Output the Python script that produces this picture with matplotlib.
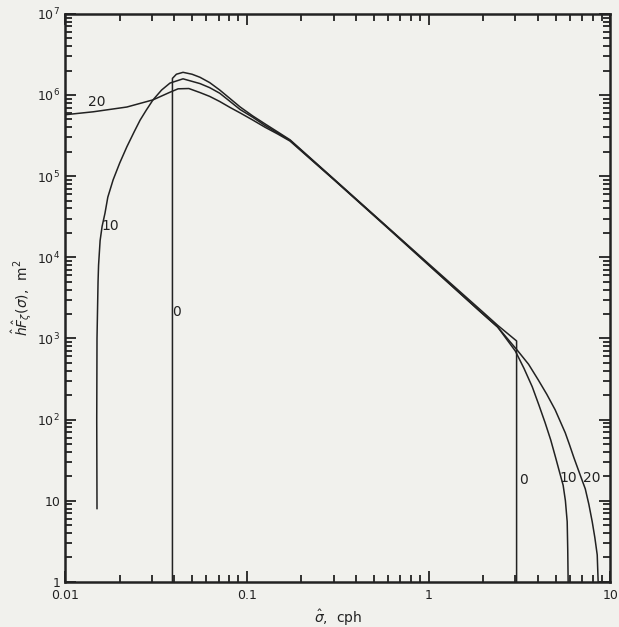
import matplotlib
matplotlib.use("Agg")
import matplotlib.pyplot as plt
from matplotlib.ticker import LogLocator, FixedLocator, FixedFormatter, NullFormatter

plt.rcParams["mathtext.fontset"] = "dejavusans"

# spectrum for cutoff 0
x_0 = [0.039, 0.039, 0.041, 0.0446, 0.050, 0.0553, 0.0625, 0.071, 0.081, 0.092,
       0.108, 0.126, 0.148, 0.173, 0.30, 0.615, 1.02, 1.92, 2.4, 3.05, 3.05]
y_0 = [1, 1.6e6, 1.8e6, 1.9e6, 1.8e6, 1.65e6, 1.42e6, 1.15e6, 9.0e5, 7.1e5,
       5.5e5, 4.4e5, 3.5e5, 2.8e5, 9.3e4, 2.2e4, 8.0e3, 2.27e3, 1.45e3, 930, 1]

# spectrum for cutoff 10
x_10 = [0.0150, 0.01495, 0.0150, 0.0152, 0.0153, 0.0156, 0.0160, 0.0166, 0.0172,
        0.0184, 0.020, 0.0219, 0.024, 0.0259, 0.028, 0.0305, 0.034, 0.0378, 0.0446,
        0.0553, 0.0625, 0.071, 0.081, 0.092, 0.108, 0.126, 0.148, 0.173, 0.30,
        0.615, 1.02, 1.92, 2.4, 3.0, 3.35, 3.72, 4.05, 4.38, 4.7, 5.0, 5.27, 5.5,
        5.66, 5.79, 5.83, 5.86]
y_10 = [8, 100, 1000, 5000, 8e3, 1.6e4, 2.4e4, 3.5e4, 5.5e4,
        9e4, 1.45e5, 2.3e5, 3.5e5, 4.9e5, 6.5e5, 8.7e5, 1.15e6, 1.4e6, 1.58e6,
        1.38e6, 1.23e6, 1.05e6, 8.3e5, 6.6e5, 5.3e5, 4.2e5, 3.4e5, 2.75e5, 9.2e4,
        2.18e4, 7.8e3, 2.15e3, 1.38e3, 700, 427, 253, 150, 91, 56, 34, 22, 15.5,
        10, 5.5, 2.5, 1]

# spectrum for cutoff 20
x_20 = [0.01, 0.0143, 0.0219, 0.0305, 0.0378, 0.0419, 0.048, 0.0553, 0.0625,
        0.071, 0.081, 0.092, 0.108, 0.126, 0.148, 0.173, 0.30, 0.615, 1.02, 1.92,
        2.4, 3.1, 3.55, 4.01, 4.47, 4.97, 5.65, 5.96, 6.3, 6.76, 7.28, 7.62, 7.95,
        8.22, 8.47, 8.57]
y_20 = [5.7e5, 6.2e5, 7.1e5, 8.7e5, 1.08e6, 1.19e6, 1.2e6, 1.07e6, 9.6e5,
        8.3e5, 7.0e5, 6.0e5, 4.9e5, 4.0e5, 3.3e5, 2.7e5, 9.1e4, 2.15e4, 7.7e3, 2.15e3,
        1.38e3, 700, 480, 309, 205, 132, 68.6, 49, 34, 22, 14, 9.0, 5.5,
        3.5, 2.15, 1]

y_ticks = [1, 10, 1e2, 1e3, 1e4, 1e5, 1e6, 1e7]
y_tick_labels = ["1", "10", "$10^2$", "$10^3$", "$10^4$", "$10^5$", "$10^6$", "$10^7$"]
x_ticks = [0.01, 0.1, 1, 10]
x_tick_labels = ["0.01", "0.1", "1", "10"]

# curve labels: text, x, y
curve_labels = [("20", 0.0150, 8.2e5), ("10", 0.0177, 2.4e4), ("0", 0.0413, 2.1e3),
                ("0", 3.32, 18), ("10", 5.86, 19), ("20", 7.95, 19)]

paper = "#f1f1ed"
ink = "#222222"

fig = plt.figure(figsize=(6.19, 6.27), dpi=100, facecolor=paper)
ax = fig.add_axes([0.105, 0.072, 0.881, 0.906], facecolor=paper)

ax.plot(x_0, y_0, color=ink, linewidth=1.1)
ax.plot(x_10, y_10, color=ink, linewidth=1.1)
ax.plot(x_20, y_20, color=ink, linewidth=1.1)

for text, tx, ty in curve_labels:
    ax.text(tx, ty, text, fontsize=10, color=ink, ha="center", va="center")

ax.set_xscale("log")
ax.set_yscale("log")
ax.set_xlim(0.01, 10)
ax.set_ylim(1, 1e7)

ax.xaxis.set_major_locator(FixedLocator(x_ticks))
ax.xaxis.set_major_formatter(FixedFormatter(x_tick_labels))
ax.yaxis.set_major_locator(FixedLocator(y_ticks))
ax.yaxis.set_major_formatter(FixedFormatter(y_tick_labels))
ax.xaxis.set_minor_locator(LogLocator(base=10, subs=range(2, 10)))
ax.yaxis.set_minor_locator(LogLocator(base=10, subs=range(2, 10)))
ax.xaxis.set_minor_formatter(NullFormatter())
ax.yaxis.set_minor_formatter(NullFormatter())

ax.tick_params(which="both", direction="in", top=True, right=True, color=ink,
               labelcolor=ink, labelsize=9, width=1.3)
ax.tick_params(which="major", length=8)
ax.tick_params(which="minor", length=5)
ax.tick_params(axis="x", pad=5)

for spine in ax.spines.values():
    spine.set_linewidth(1.8)
    spine.set_color(ink)

ax.set_xlabel(r"$\hat{\sigma}$,  cph", fontsize=10, color=ink, labelpad=4)
ax.set_ylabel(r"$\hat{h}\hat{F}_{\zeta}(\sigma)$,  m$^2$", fontsize=10, color=ink, labelpad=2)

plt.savefig("out.png", dpi=100, facecolor=paper)
